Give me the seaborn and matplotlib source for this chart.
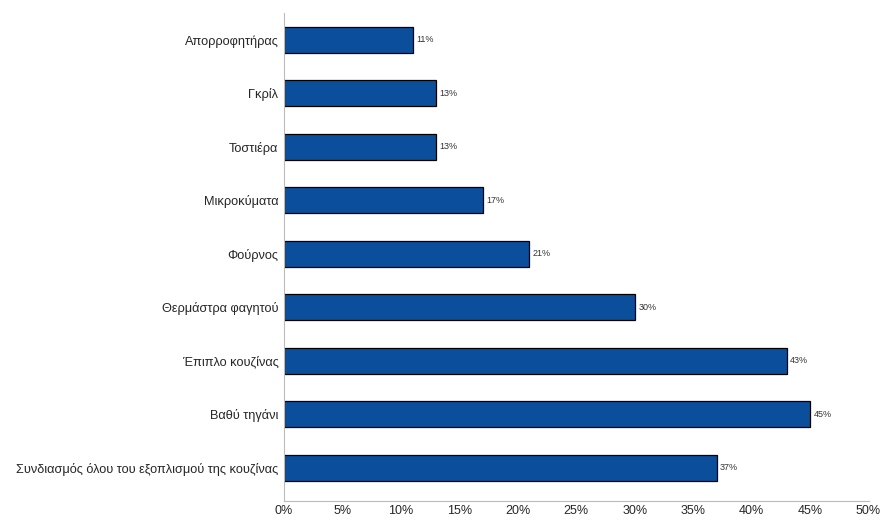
import matplotlib
matplotlib.use("Agg")
import matplotlib.pyplot as plt
import seaborn as sns
import pandas as pd

categories = [
    "Απορροφητήρας",
    "Γκρίλ",
    "Τοστιέρα",
    "Μικροκύματα",
    "Φούρνος",
    "Θερμάστρα φαγητού",
    "Έπιπλο κουζίνας",
    "Βαθύ τηγάνι",
    "Συνδιασμός όλου του εξοπλισμού της κουζίνας",
]
values = [11, 13, 13, 17, 21, 30, 43, 45, 37]
xticks = [0, 5, 10, 15, 20, 25, 30, 35, 40, 45, 50]

df = pd.DataFrame({"item": categories, "pct": values})

sns.set_theme(style="white")
plt.rcParams["font.family"] = ["Liberation Sans", "DejaVu Sans"]

fig = plt.figure(figsize=(8.83, 5.24), dpi=100)
ax = fig.add_axes([0.3216, 0.044, 0.662, 0.931])

sns.barplot(data=df, x="pct", y="item", orient="h", color="#0b4f9c",
            saturation=1, edgecolor="black", linewidth=0.9, width=0.48, ax=ax)

for i, v in enumerate(values):
    ax.text(v + 0.3, i, f"{v}%", va="center", ha="left", fontsize=6.5, color="#333333")

ax.set_xlim(0, 50)
ax.set_ylim(8.62, -0.5)
ax.set_xticks(xticks)
ax.set_xticklabels([f"{t}%" for t in xticks], fontsize=9.0)
ax.tick_params(axis="y", labelsize=9.2, length=0, pad=4)
ax.tick_params(axis="x", length=3, direction="in", pad=3, color="#bbbbbb")
ax.set_xlabel("")
ax.set_ylabel("")
for side in ["top", "right"]:
    ax.spines[side].set_visible(False)
for side in ["left", "bottom"]:
    ax.spines[side].set_color("#bbbbbb")
    ax.spines[side].set_linewidth(0.8)

fig.savefig("out.png", dpi=100)
